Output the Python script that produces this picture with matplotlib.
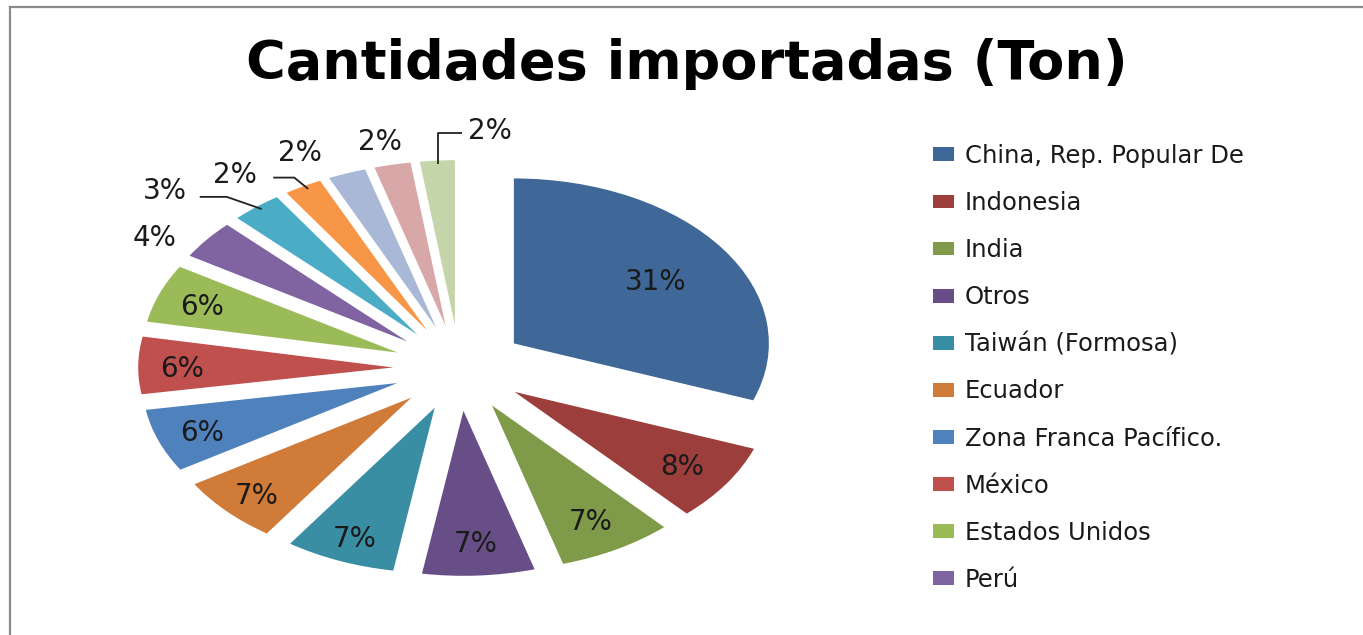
import matplotlib
matplotlib.use("Agg")
import matplotlib.pyplot as plt
import numpy as np
from matplotlib.lines import Line2D

# ---------------- data ----------------
title = "Cantidades importadas (Ton)"
legend_labels = ["China, Rep. Popular De", "Indonesia", "India", "Otros",
                 "Taiwán (Formosa)", "Ecuador", "Zona Franca Pacífico.",
                 "México", "Estados Unidos", "Perú"]
# shares (%)
values = [30.6, 7.6, 7.3, 7.1, 7.0, 6.6, 6.2, 5.6, 5.7, 3.8, 3.2,
          2.4, 2.4, 2.3, 2.2]
colors = ["#3F6797", "#9C3E3B", "#7F9A48", "#674E86", "#3A8EA3", "#D07B38",
          "#4F81BD", "#C0504D", "#9BBB59", "#8064A2", "#4BACC6", "#F79646",
          "#A8B8D6", "#D7A8A7", "#C4D6A9"]

# ---------------- layout ----------------
W, H = 1363, 635
fig = plt.figure(figsize=(W / 100, H / 100), dpi=100)
fig.patch.set_facecolor("white")
ax = fig.add_axes([0, 0, 1, 1])

cx_px, cy_px = 459.5, 368.0     # pie centre in pixels (from top-left)
sx, sy = 255.0, 165.0           # pixels per unit radius (stretched pie)

wedges, _ = ax.pie(values, colors=colors, startangle=90, counterclock=False,
                   explode=[0.26] * len(values), radius=1.0,
                   wedgeprops=dict(linewidth=0))
ax.set_aspect("auto")
ax.set_xlim(-cx_px / sx, (W - cx_px) / sx)
ax.set_ylim(-(H - cy_px) / sy, cy_px / sy)
ax.axis("off")

total = float(sum(values))
pct = ["{:.0f}%".format(v / total * 100) for v in values]

label_font = dict(fontsize=20, color="#1a1a1a", family="DejaVu Sans")

# inside labels
inside_dist = {0: 0.68, 4: 0.84, 5: 0.84, 6: 0.82, 7: 0.83, 8: 0.82}
# outside labels: (radius from pie centre, angle shift from slice middle in deg)
outside = {9: (1.44, 4.2), 10: (1.59, 7.4), 11: (1.48, 7.3),
           12: (1.46, 4.8), 13: (1.42, 0.7), 14: (1.46, -8.7)}

label_pos = {}
for i, w in enumerate(wedges):
    mid = np.deg2rad((w.theta1 + w.theta2) / 2.0)
    if i in outside:
        r, shift = outside[i]
        a = mid + np.deg2rad(shift)
        x, y = r * np.cos(a), r * np.sin(a)
    else:
        d = inside_dist.get(i, 0.79)
        x = w.center[0] + d * np.cos(mid)
        y = w.center[1] + d * np.sin(mid)
    label_pos[i] = (x, y)
    ax.text(x, y, pct[i], ha="center", va="center_baseline", **label_font)

# leader lines (start offset from label centre in px, elbow rule)
def px2u(dx, dy):
    return dx / sx, dy / sy

leaders = {10: ((35, -9), "right", 27, -0.4), 11: ((38, -6), "right", 21, -0.5),
           14: ((-28, -5), "vertical", 0, 0.0)}
for i, ((ox, oy), kind, el, ash) in leaders.items():
    w = wedges[i]
    mid = np.deg2rad((w.theta1 + w.theta2) / 2.0 + ash)
    ex, ey = 1.237 * np.cos(mid), 1.237 * np.sin(mid)
    lx, ly = label_pos[i]
    dx, dy = px2u(ox, oy)
    sxp, syp = lx + dx, ly + dy
    if kind == "right":
        bx, by = sxp + el / sx, syp
    else:
        bx, by = ex, syp
    ax.plot([sxp, bx, ex], [syp, by, ey], color="#222222", lw=1.3,
            solid_capstyle="butt")

# ---------------- title ----------------
fig.text(687 / W, 1 - 79 / H, title, ha="center", va="baseline",
         fontsize=39, fontweight="bold", family="DejaVu Sans", color="black")

# ---------------- legend ----------------
fs_pt = 17.5
fs_px = fs_pt * 100 / 72.0
leg = fig.legend(wedges[:len(legend_labels)], legend_labels,
                 loc="upper left", bbox_to_anchor=(933 / W, 1 - 144 / H),
                 frameon=False, prop=dict(family="DejaVu Sans", size=fs_pt),
                 handlelength=21 / fs_px, handleheight=12 / fs_px,
                 handletextpad=11 / fs_px, labelspacing=0.95,
                 borderpad=0, borderaxespad=0)
for t in leg.get_texts():
    t.set_color("#1a1a1a")

# ---------------- chart frame ----------------
fc = "#8a8a8a"
fig.add_artist(Line2D([10 / W, 10 / W], [0, 1 - 7 / H], color=fc, lw=1.6,
                      transform=fig.transFigure))
fig.add_artist(Line2D([10 / W, 1], [1 - 7 / H, 1 - 7 / H], color=fc, lw=1.6,
                      transform=fig.transFigure))

fig.savefig("out.png", dpi=100, facecolor="white")
